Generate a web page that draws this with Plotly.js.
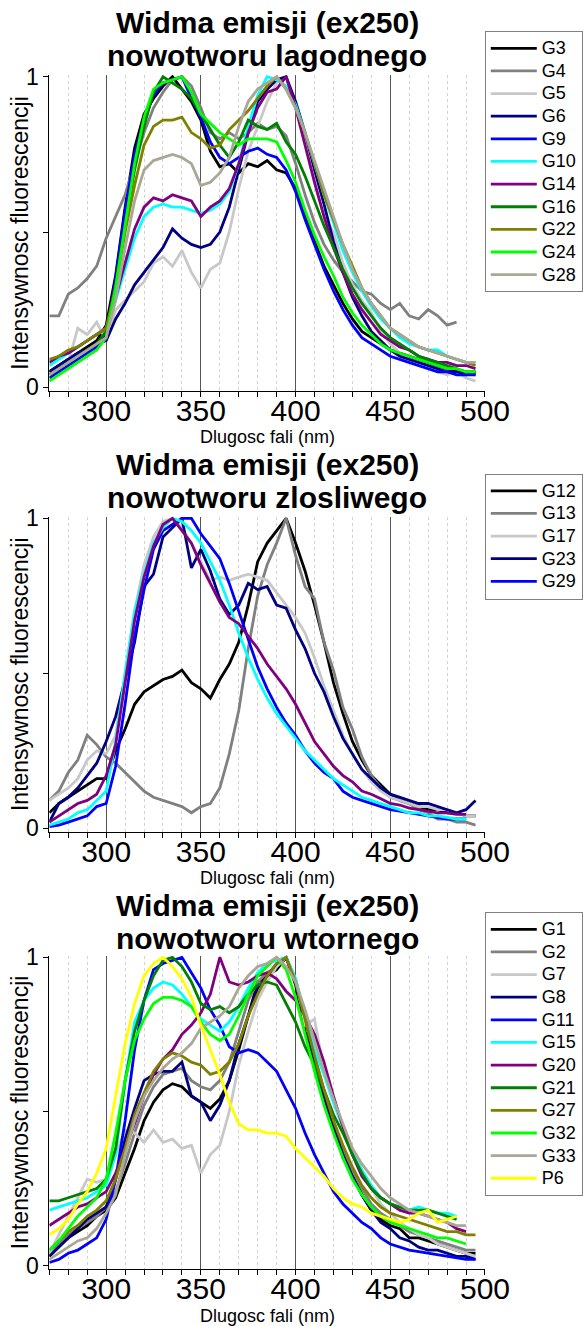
<!DOCTYPE html>
<html>
<head>
<meta charset="utf-8">
<script src="https://cdn.plot.ly/plotly-3.0.1.min.js"></script>
<style>
  html, body { margin: 0; padding: 0; background: #ffffff; }
  #chart { width: 583px; height: 1326px; }
</style>
</head>
<body>
<div id="chart"></div>
<script>
// Emission spectra (excitation 250 nm), normalised intensity vs wavelength
const wavelength = [270,275,280,285,290,295,300,305,310,315,
                    320,325,330,335,340,345,350,355,360,365,
                    370,375,380,385,390,395,400,405,410,415,
                    420,425,430,435,440,445,450,455,460,465,
                    470,475,480,485,490,495];

// --- nowotwor lagodny ---
const G3  = [.05,.07,.09,.11,.13,.15,.20,.36,.58,.77, .88,.93,.97,1.0,.96,.92,.86,.76,.71,.72, .69,.72,.71,.73,.70,.69,.64,.55,.47,.39, .33,.27,.22,.18,.16,.14,.12,.11,.10,.09, .08,.07,.06,.05,.05,.04];
const G4  = [.23,.23,.30,.32,.35,.39,.48,.55,.62,.72, .82,.90,.95,.99,1.0,.97,.90,.82,.80,.82, .80,.82,.85,.83,.84,.81,.72,.62,.53,.46, .41,.37,.34,.31,.30,.27,.25,.27,.23,.22, .25,.23,.20,.21,null,null];
const G5  = [.04,.06,.08,.19,.17,.21,.15,.25,.28,.31, .34,.40,.42,.39,.44,.37,.32,.38,.40,.50, .64,.76,.84,.92,.98,1.0,.90,.78,.66,.55, .50,.40,.33,.28,.24,.18,.14,.11,.09,.08, .07,.05,.04,.05,.03,.02];
const G6  = [.05,.07,.09,.11,.12,.14,.15,.22,.27,.33, .37,.41,.45,.51,.48,.46,.45,.46,.50,.58, .70,.82,.92,.96,.99,1.0,.92,.82,.70,.59, .47,.37,.29,.23,.18,.15,.12,.10,.09,.08, .07,.06,.05,.05,.04,.05];
const G9  = [.03,.05,.07,.09,.11,.13,.17,.35,.57,.75, .86,.94,.98,.99,1.0,.93,.87,.79,.74,.72, .74,.76,.77,.75,.74,.70,.63,.54,.46,.38, .31,.25,.20,.16,.14,.12,.10,.09,.08,.07, .06,.05,.05,.04,.04,.04];
const G10 = [.07,.09,.11,.13,.15,.17,.19,.28,.38,.48, .55,.58,.59,.58,.58,.57,.56,.57,.59,.63, .72,.84,.94,1.0,.99,.97,.91,.82,.72,.62, .53,.44,.37,.31,.26,.22,.19,.16,.14,.13, .12,.12,.10,.09,.08,.08];
const G14 = [.08,.10,.11,.13,.15,.17,.19,.29,.40,.51, .58,.61,.60,.62,.61,.60,.55,.58,.60,.64, .72,.82,.90,.95,.96,1.0,.90,.78,.66,.55, .45,.37,.30,.25,.21,.17,.15,.13,.12,.10, .09,.08,.08,.07,.07,.06];
const G16 = [.04,.06,.08,.10,.12,.14,.18,.33,.52,.70, .84,.95,1.0,.98,.96,.93,.88,.83,.78,.74, .79,.86,.84,.83,.85,.79,.75,.68,.60,.52, .45,.38,.32,.27,.23,.19,.16,.14,.12,.10, .09,.08,.07,.06,.05,.05];
const G22 = [.09,.10,.12,.13,.15,.17,.19,.32,.50,.65, .78,.84,.86,.86,.87,.82,.80,.77,.78,.83, .86,.89,.93,.97,1.0,.96,.90,.82,.72,.62, .54,.46,.39,.32,.27,.23,.19,.17,.15,.13, .12,.11,.10,.09,.08,.07];
const G24 = [.02,.04,.06,.08,.10,.12,.16,.32,.52,.72, .87,.96,.98,.99,1.0,.95,.88,.85,.82,.80, .78,.80,.80,.80,.79,.73,.66,.57,.49,.42, .36,.29,.24,.20,.17,.14,.12,.11,.10,.09, .08,.07,.06,.06,.05,.05];
const G28 = [.04,.06,.08,.10,.12,.14,.16,.28,.45,.60, .70,.73,.74,.75,.74,.72,.65,.66,.69,.74, .84,.92,.96,.98,1.0,.96,.90,.82,.73,.64, .55,.46,.38,.32,.27,.23,.19,.17,.15,.13, .12,.11,.10,.09,.08,.08];

// --- nowotwor zlosliwy ---
const G12 = [.05,.08,.10,.12,.14,.16,.16,.25,.32,.40, .44,.46,.48,.49,.51,.47,.45,.42,.48,.53, .60,.72,.86,.92,.96,1.0,.92,.83,.72,.60, .47,.37,.28,.22,.17,.14,.11,.09,.08,.07, .06,.06,.05,.05,.04,.04];
const G13 = [.09,.12,.18,.22,.30,.27,.23,.21,.18,.15, .12,.10,.09,.08,.07,.05,.07,.08,.13,.24, .38,.58,.75,.85,.92,1.0,.88,.78,.74,.60, .51,.39,.32,.23,.17,.13,.10,.09,.08,.06, .05,.03,.03,.02,.02,.01];
const G17 = [.09,.11,.13,.16,.22,.25,.24,.30,.50,.70, .85,.94,.99,1.0,.97,.92,.86,.80,.81,.80, .81,.82,.81,.80,.76,.72,.68,.63,.55,.46, .38,.30,.24,.19,.15,.12,.10,.09,.08,.07, .07,.06,.06,.05,.04,.04];
const G23 = [.02,.08,.10,.13,.17,.21,.28,.36,.48,.60, .78,.82,.94,.97,1.0,.84,.90,.83,.74,.69, .72,.79,.77,.78,.72,.71,.64,.58,.50,.44, .36,.29,.24,.19,.16,.13,.11,.10,.09,.08, .08,.07,.06,.05,.06,.09];
const G29 = [.005,.01,.02,.03,.04,.07,.08,.20,.40,.62, .77,.90,.96,.98,1.0,1.0,.95,.91,.87,.79, .70,.61,.52,.45,.39,.34,.30,.25,.21,.18, .16,.12,.10,.09,.08,.07,.06,.055,.05,.045, .04,.035,.03,.03,.03,null];
const mCyan   = [.01,.02,.03,.05,.06,.09,.12,.28,.50,.70, .82,.92,.97,1.0,.99,.96,.92,.86,.80,.72, .63,.55,.48,.42,.37,.33,.29,.25,.22,.19, .16,.14,.12,.10,.09,.08,.07,.06,.05,.05, .04,.04,.035,.03,.03,null];
const mPurple = [.02,.04,.06,.08,.09,.11,.17,.27,.47,.67, .81,.91,.98,1.0,.96,.92,.85,.79,.73,.68, .66,.62,.58,.53,.49,.45,.40,.34,.28,.24, .20,.17,.15,.12,.11,.095,.08,.075,.065,.06, .055,.05,.05,.045,.045,null];

// --- nowotwor wtorny ---
const G1  = [.03,.06,.09,.11,.13,.16,.18,.22,.30,.38, .47,.53,.57,.59,.58,.55,.53,.51,.54,.60, .70,.81,.92,.94,.96,1.0,.91,.76,.65,.55, .45,.35,.29,.23,.18,.15,.13,.12,.09,.09, .08,.07,.06,.05,.04,.04];
const G2  = [.04,.07,.10,.12,.14,.16,.19,.24,.33,.43, .52,.58,.62,.63,.64,.60,.58,.57,.60,.66, .76,.86,.92,.95,.97,1.0,.93,.80,.68,.57, .47,.38,.31,.25,.20,.17,.15,.13,.11,.10, .09,.08,.07,.06,.05,.05];
const G7  = [.04,.10,.16,.22,.28,.27,.28,.36,.44,.43, .40,.44,.40,.41,.38,.39,.30,.36,.39,.50, .65,.76,.86,.92,.97,1.0,.93,.78,.80,.63, .53,.45,.38,.31,.25,.20,.17,.14,.12,.10, .09,.07,.06,.05,.04,.03];
const G8  = [.03,.06,.09,.12,.15,.17,.19,.28,.41,.51, .60,.62,.63,.63,.66,.55,.53,.47,.52,.60, .72,.81,.90,.94,.98,1.0,.92,.81,.66,.55, .45,.36,.29,.23,.18,.14,.12,.09,.08,.06, .05,.05,.04,.03,.03,.02];
const G11 = [.01,.02,.04,.05,.07,.09,.15,.28,.47,.70, .86,.96,.98,.99,1.0,.95,.90,.83,.78,.71, .69,.70,.69,.66,.63,.57,.51,.43,.36,.30, .24,.20,.17,.14,.12,.09,.07,.06,.05,.045, .04,.035,.03,.025,.02,.02];
const G15 = [.18,.19,.20,.21,.22,.24,.26,.36,.60,.79, .86,.90,.92,.91,.88,.84,.80,.78,.76,.79, .84,.90,.95,.98,.99,1.0,.93,.81,.70,.62, .53,.45,.37,.31,.26,.22,.20,.19,.18,.19, .18,.17,.17,.16,null,null];
const G20 = [.13,.15,.17,.19,.20,.22,.24,.30,.38,.46, .55,.62,.67,.70,.75,.78,.82,.88,1.0,.92, .91,.92,.94,.95,.93,.89,.86,.81,.75,.66, .55,.45,.36,.29,.25,.22,.20,.18,.17,.17, .16,.15,.14,.12,.11,null];
const G21 = [.21,.21,.22,.23,.24,.25,.28,.38,.60,.76, .86,.94,.99,1.0,.97,.92,.85,.83,.84,.82, .84,.88,.91,.92,.91,.85,.79,.71,.65,.57, .49,.43,.36,.30,.25,.22,.20,.19,.18,.18, .18,.17,.16,.15,null,null];
const G27 = [.05,.08,.11,.13,.16,.18,.21,.28,.38,.49, .56,.63,.67,.69,.68,.66,.65,.62,.63,.66, .72,.81,.88,.94,.98,1.0,.92,.80,.68,.57, .47,.39,.32,.26,.22,.19,.17,.16,.15,.14, .13,.12,.11,.11,.10,.10];
const G32 = [.05,.08,.12,.16,.19,.22,.28,.43,.60,.73, .80,.85,.87,.87,.86,.84,.79,.75,.73,.75, .81,.88,.94,.97,1.0,.96,.87,.75,.63,.52, .43,.35,.28,.23,.19,.16,.14,.13,.12,.11, .10,.09,.09,.08,.07,null];
const G33 = [.02,.04,.06,.08,.09,.12,.17,.23,.36,.47, .55,.60,.64,.67,.69,.72,.77,.79,.81,.84, .90,.94,.97,.98,1.0,.97,.92,.83,.73,.63, .54,.46,.38,.33,.29,.25,.22,.20,.18,.17, .16,.15,.14,.13,.13,null];
const P6  = [.10,.12,.15,.20,.24,.30,.38,.55,.72,.85, .94,.98,1.0,.97,.93,.87,.78,.70,.62,.53, .46,.44,.44,.43,.43,.42,.38,.35,.32,.29, .25,.22,.20,.19,.17,.16,.15,.14,.15,.17, .18,.14,.15,.16,null,null];

const titleLine1 = 'Widma emisji (ex250)';
const titleLine2 = ['nowotworu lagodnego', 'nowotworu zlosliwego', 'nowotworu wtornego'];
const xTitle = 'Dlugosc fali (nm)';
const yTitle = 'Intensywnosc fluorescencji';

const C = {
  black: '#000000', gray: '#808080', light: '#c8c8c8', navy: '#000080',
  blue: '#0000ff', cyan: '#00ffff', purple: '#800080', green: '#008000',
  olive: '#808000', lime: '#00ff00', khaki: '#aba796', yellow: '#ffff00'
};

const panels = [
  [['G3', G3, C.black], ['G4', G4, C.gray], ['G5', G5, C.light], ['G6', G6, C.navy],
   ['G9', G9, C.blue], ['G10', G10, C.cyan], ['G14', G14, C.purple], ['G16', G16, C.green],
   ['G22', G22, C.olive], ['G24', G24, C.lime], ['G28', G28, C.khaki]],
  [['G12', G12, C.black], ['G13', G13, C.gray], ['G17', G17, C.light], ['G23', G23, C.navy],
   ['G29', G29, C.blue], [null, mCyan, C.cyan], [null, mPurple, C.purple]],
  [['G1', G1, C.black], ['G2', G2, C.gray], ['G7', G7, C.light], ['G8', G8, C.navy],
   ['G11', G11, C.blue], ['G15', G15, C.cyan], ['G20', G20, C.purple], ['G21', G21, C.green],
   ['G27', G27, C.olive], ['G32', G32, C.lime], ['G33', G33, C.khaki], ['P6', P6, C.yellow]]
];

const FONT = 'Liberation Sans, Arial, sans-serif';
const W = 583, H = 1326;
// pixel geometry of each plotting area (top and bottom of the y axis)
const plotLeft = 49.6, plotRight = 487.5;
const yPix = [[75, 390.7], [516.6, 831.7], [955.6, 1269]];
const legendTop = [31, 473.5, 912];
const TITLE_SIZE = 30, XLAB_SIZE = 18, XLAB_OFFSET = 46.5;

const traces = [];
panels.forEach((series, p) => {
  const sfx = p === 0 ? '' : String(p + 1);
  series.forEach(([name, vals, color]) => {
    traces.push({
      type: 'scatter', mode: 'lines',
      x: wavelength, y: vals,
      name: name ? '<span style="font-size:18px">' + name + '</span>' : '',
      showlegend: !!name,
      legend: 'legend' + sfx,
      xaxis: 'x' + sfx, yaxis: 'y' + sfx,
      line: { color: color, width: 2.8 },
      connectgaps: false,
      hoverinfo: 'skip'
    });
  });
});

const layout = {
  width: W, height: H,
  margin: { l: 0, r: 0, t: 0, b: 0 },
  paper_bgcolor: '#ffffff', plot_bgcolor: '#ffffff',
  font: { family: FONT, color: '#000000' },
  showlegend: true,
  annotations: []
};

const xDomain = [plotLeft / W, plotRight / W];
const xMid = (plotLeft + plotRight) / 2 / W;

titleLine2.forEach((line2, p) => {
  const sfx = p === 0 ? '' : String(p + 1);
  const [top, bot] = yPix[p];
  const domain = [1 - bot / H, 1 - top / H];
  layout['xaxis' + sfx] = {
    domain: xDomain, anchor: 'y' + sfx,
    range: [270, 500],
    tick0: 300, dtick: 50,
    showline: true, linecolor: '#000000', linewidth: 1,
    ticks: 'outside', ticklen: 5, tickcolor: '#000000',
    ticklabelstandoff: -12,
    showgrid: true, gridcolor: '#555555', gridwidth: 1,
    zeroline: false,
    tickfont: { size: 30, family: FONT, color: '#000000' },
    minor: { dtick: 10, tick0: 270, ticks: 'outside', ticklen: 5, tickcolor: '#000000',
             showgrid: true, gridcolor: '#d2d2d2', griddash: 'dot', gridwidth: 1 }
  };
  layout['yaxis' + sfx] = {
    domain: domain, anchor: 'x' + sfx,
    range: [-0.011, 1.0055],
    tickvals: [0, 0.5, 1], ticktext: ['0', '', '1'],
    showline: true, linecolor: '#000000', linewidth: 1,
    ticks: 'outside', ticklen: 5, tickcolor: '#000000',
    showgrid: false, zeroline: false,
    tickfont: { size: 23, family: FONT, color: '#000000' }
  };
  layout['legend' + sfx] = {
    x: 487.3 / W, xanchor: 'left',
    y: 1 - legendTop[p] / H, yanchor: 'top',
    bgcolor: '#ffffff', bordercolor: '#808080', borderwidth: 1,
    font: { size: 15.1, family: FONT, color: '#000000' },
    itemwidth: 46, tracegroupgap: 0
  };
  // two-line panel title, kept clear of the x label of the panel above
  let line1Y = top - 53;
  if (p > 0) {
    const prevLabelBottom = yPix[p - 1][1] + XLAB_OFFSET + XLAB_SIZE * 0.56;
    line1Y = Math.max(line1Y, prevLabelBottom + TITLE_SIZE * 0.56);
  }
  const line2Y = line1Y + TITLE_SIZE * 1.13;
  layout.annotations.push({
    xref: 'paper', yref: 'paper', x: xMid, xanchor: 'center',
    y: 1 - line1Y / H, yanchor: 'middle',
    text: '<b>' + titleLine1 + '</b>', showarrow: false,
    font: { size: TITLE_SIZE, family: FONT, color: '#000000' }
  });
  layout.annotations.push({
    xref: 'paper', yref: 'paper', x: xMid, xanchor: 'center',
    y: 1 - line2Y / H, yanchor: 'middle',
    text: '<b>' + line2 + '</b>', showarrow: false,
    font: { size: TITLE_SIZE, family: FONT, color: '#000000' }
  });
  // x-axis label under the tick numbers
  layout.annotations.push({
    xref: 'paper', yref: 'paper', x: xMid, xanchor: 'center',
    y: 1 - (bot + XLAB_OFFSET) / H, yanchor: 'middle',
    text: xTitle, showarrow: false,
    font: { size: XLAB_SIZE, family: FONT, color: '#000000' }
  });
  // rotated y-axis label
  layout.annotations.push({
    xref: 'paper', yref: 'paper', x: 20 / W, xanchor: 'center',
    y: 1 - (top + bot) / 2 / H, yanchor: 'middle',
    text: yTitle, textangle: -90, showarrow: false,
    font: { size: 23, family: FONT, color: '#000000' }
  });
});

Plotly.newPlot('chart', traces, layout, { displayModeBar: false, staticPlot: true });
</script>
</body>
</html>
